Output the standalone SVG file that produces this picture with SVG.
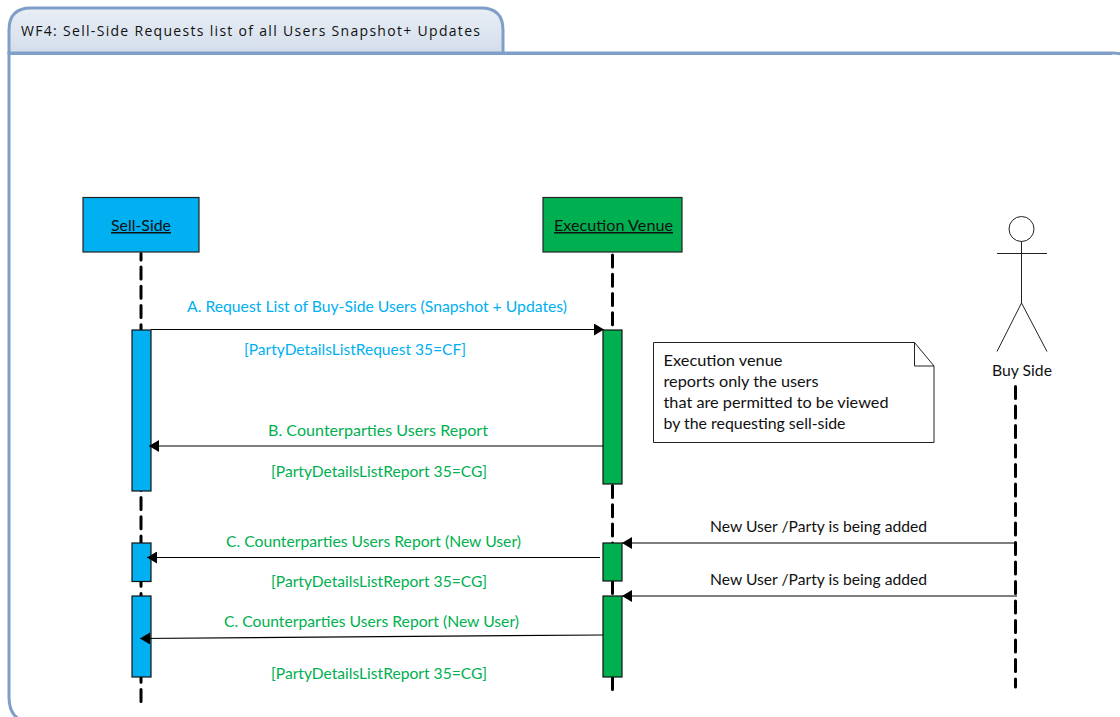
<svg xmlns="http://www.w3.org/2000/svg" width="1120" height="717" viewBox="0 0 1120 717">
<style>
text{font-family:"Lato","Open Sans",sans-serif;font-size:15px;fill:#111}
.blue{fill:#00b0f0}.green{fill:#00b050}
.life{stroke:#000;stroke-width:3;stroke-linecap:round;fill:none}
.msg{stroke:#000;stroke-width:1.2;fill:none}
.head{fill:#000}
.act{stroke:#111;stroke-width:1.2}
.box{stroke:#222;stroke-width:1.2}
.line{stroke:#222;stroke-width:1;fill:none}
</style>
<defs>
<linearGradient id="tabg" x1="0" y1="0" x2="0" y2="1"><stop offset="0" stop-color="#e9eef6"/><stop offset="1" stop-color="#d3deeb"/></linearGradient>
<marker id="ah" markerUnits="userSpaceOnUse" markerWidth="11" markerHeight="12" refX="10" refY="6" orient="auto"><path class="head" d="M0 0L10 6L0 12z"/></marker>
</defs>
<g id="frame">
<path d="M9 53H1112Q1138 53 1138 79V723H35Q9 723 9 697Z" fill="#fff" stroke="#7f9fc9" stroke-width="3"/>
<path d="M9 53V30Q9 8 31 8H481Q503 8 503 30V53Z" fill="url(#tabg)" stroke="#7f9fc9" stroke-width="3"/>
<path d="M9 53.500H1112" stroke="#7f9fc9" stroke-width="3"/>
<text x="21" y="36" textLength="459" lengthAdjust="spacing" style="font-family:'Open Sans',sans-serif;font-size:14px">WF4: Sell-Side Requests list of all Users Snapshot+ Updates</text>
</g>
<g id="sell-side-activations">
<path class="life" stroke-dasharray="12 7.200" d="M141 701.500V253.500"/>
<rect class="act" x="132" y="330" width="19" height="161" fill="#00b0f0"/>
<rect class="act" x="132" y="543" width="19" height="38.500" fill="#00b0f0"/>
<rect class="act" x="132" y="596" width="19" height="81" fill="#00b0f0"/>
</g>
<g id="venue-activations">
<path class="life" stroke-dasharray="12 7.200" d="M612.500 689.500V253.500"/>
<rect class="act" x="603" y="330" width="19" height="154" fill="#00b050"/>
<rect class="act" x="603" y="543" width="19" height="38" fill="#00b050"/>
<rect class="act" x="603" y="596" width="19" height="81" fill="#00b050"/>
</g>
<g id="connectors">
<path class="life" stroke-dasharray="12 7.500" d="M1015.500 386.500V687"/>
<path class="msg" d="M151 329.500H604" marker-end="url(#ah)"/>
<path class="msg" d="M603 446H149" marker-end="url(#ah)"/>
<path class="msg" d="M600 557.500H147" marker-end="url(#ah)"/>
<path class="msg" d="M603 635L140 638.500" marker-end="url(#ah)"/>
<path class="msg" d="M1017 543H622" marker-end="url(#ah)"/>
<path class="msg" d="M1017 596H622" marker-end="url(#ah)"/>
</g>
<g id="sell-side">
<rect class="box" x="83" y="197.500" width="116" height="54.500" fill="#00b0f0"/>
<text x="111" y="231" text-decoration="underline" textLength="60" lengthAdjust="spacingAndGlyphs">Sell-Side</text>
</g>
<g id="execution-venue">
<rect class="box" x="543" y="197.500" width="139" height="54.500" fill="#00b050"/>
<text x="554" y="231" text-decoration="underline" textLength="119" lengthAdjust="spacingAndGlyphs">Execution Venue</text>
</g>
<g id="buy-side">
<circle cx="1021.500" cy="229" r="12.500" fill="#fff" stroke="#222" stroke-width="1"/>
<path class="line" d="M1021.500 241.500V303M997 253.500H1047M997 351.500L1021.500 303L1047 351.500"/>
<text x="992" y="376" textLength="60" lengthAdjust="spacingAndGlyphs">Buy Side</text>
</g>
<g id="note">
<path d="M653.500 342.500H914.500L934 366V442.500H653.500Z" fill="#fff" stroke="#222" stroke-width="1"/>
<path d="M914.500 342.500V366H934" fill="none" stroke="#222" stroke-width="1"/>
<text x="663.500" y="366" textLength="119" lengthAdjust="spacingAndGlyphs">Execution venue</text>
<text x="663.500" y="387" textLength="155" lengthAdjust="spacingAndGlyphs">reports only the users</text>
<text x="663.500" y="408" textLength="225" lengthAdjust="spacingAndGlyphs">that are permitted to be viewed</text>
<text x="663.500" y="429" textLength="182" lengthAdjust="spacingAndGlyphs">by the requesting sell-side</text>
</g>
<g id="labels">
<text class="blue" x="187" y="312" textLength="380" lengthAdjust="spacingAndGlyphs">A. Request List of Buy-Side Users (Snapshot + Updates)</text>
<text class="blue" x="244" y="355" textLength="222" lengthAdjust="spacingAndGlyphs">[PartyDetailsListRequest 35=CF]</text>
<text class="green" x="268" y="436" textLength="220" lengthAdjust="spacingAndGlyphs">B. Counterparties Users Report</text>
<text class="green" x="271" y="477" textLength="216" lengthAdjust="spacingAndGlyphs">[PartyDetailsListReport 35=CG]</text>
<text class="green" x="226" y="547" textLength="295" lengthAdjust="spacingAndGlyphs">C. Counterparties Users Report (New User)</text>
<text class="green" x="271" y="587" textLength="216" lengthAdjust="spacingAndGlyphs">[PartyDetailsListReport 35=CG]</text>
<text class="green" x="224" y="627" textLength="295" lengthAdjust="spacingAndGlyphs">C. Counterparties Users Report (New User)</text>
<text class="green" x="271" y="679" textLength="216" lengthAdjust="spacingAndGlyphs">[PartyDetailsListReport 35=CG]</text>
<text x="710" y="532" textLength="217" lengthAdjust="spacingAndGlyphs">New User /Party is being added</text>
<text x="710" y="585" textLength="217" lengthAdjust="spacingAndGlyphs">New User /Party is being added</text>
</g>
</svg>
